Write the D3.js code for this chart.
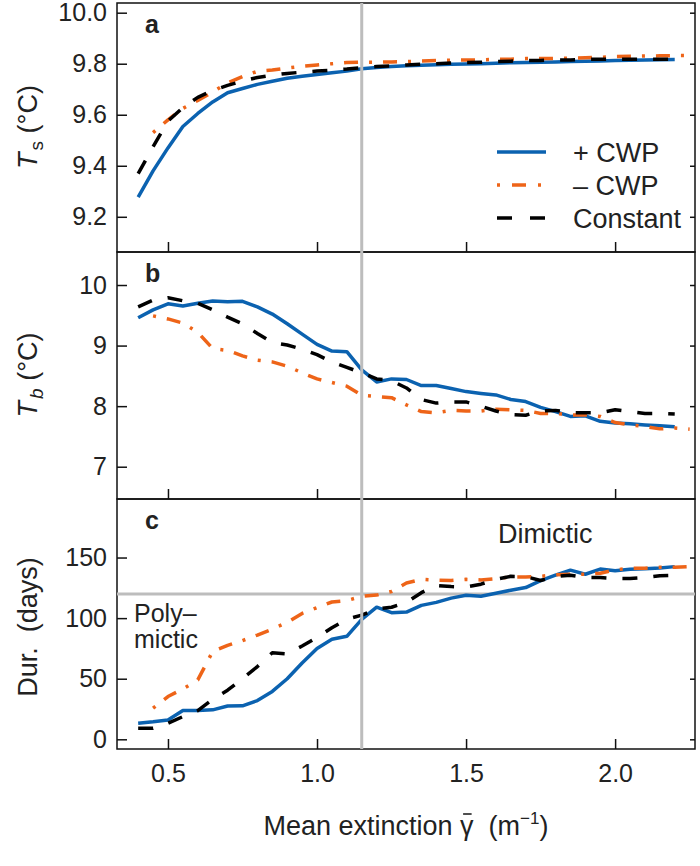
<!DOCTYPE html>
<html>
<head>
<meta charset="utf-8">
<script src="https://cdn.jsdelivr.net/npm/d3@7"></script>
<style>
  body { margin: 0; background: #fff; }
  svg text { font-family: 'Liberation Sans', Arial, Helvetica, sans-serif; fill: #222; }
</style>
</head>
<body>
<div id="chart"></div>
<script>
// x grids (mean extinction, 1/m)
const xPlus = [0.40, 0.45, 0.50, 0.55, 0.60, 0.65, 0.70, 0.75, 0.80, 0.85, 0.90, 0.95, 1.00, 1.05, 1.10, 1.15, 1.20, 1.25, 1.30,
  1.35, 1.40, 1.45, 1.50, 1.55, 1.60, 1.65, 1.70, 1.75, 1.80, 1.85, 1.90, 1.95, 2.00, 2.05, 2.10, 2.15, 2.20]
const xMinus = [0.45, 0.50, 0.55, 0.60, 0.65, 0.70, 0.75, 0.80, 0.85, 0.90, 0.95, 1.00, 1.05, 1.10, 1.15, 1.20, 1.25, 1.30,
  1.35, 1.40, 1.45, 1.50, 1.55, 1.60, 1.65, 1.70, 1.75, 1.80, 1.85, 1.90, 1.95, 2.00, 2.05, 2.10, 2.15, 2.20, 2.25]
const xConst = xPlus

// a: surface temperature Ts
const tsPlus = [9.277, 9.38, 9.47, 9.554, 9.605, 9.65, 9.686, 9.703, 9.719, 9.731, 9.743, 9.751, 9.758, 9.765, 9.771, 9.78,
  9.785, 9.789, 9.792, 9.794, 9.796, 9.798, 9.799, 9.80, 9.802, 9.804, 9.805, 9.806, 9.807, 9.809, 9.81, 9.811, 9.813,
  9.814, 9.815, 9.816, 9.817]
const tsMinus = [9.53, 9.58, 9.625, 9.656, 9.689, 9.725, 9.75, 9.77, 9.775, 9.783, 9.79, 9.795, 9.80, 9.805, 9.806, 9.806,
  9.807, 9.808, 9.811, 9.813, 9.814, 9.815, 9.815, 9.817, 9.818, 9.82, 9.82, 9.821, 9.822, 9.823, 9.825, 9.828, 9.829,
  9.83, 9.831, 9.832, 9.832]
const tsConst = [9.369, 9.475, 9.575, 9.628, 9.668, 9.695, 9.715, 9.732, 9.746, 9.755, 9.762, 9.767, 9.771, 9.775, 9.779,
  9.785, 9.789, 9.792, 9.795, 9.798, 9.80, 9.803, 9.805, 9.806, 9.808, 9.81, 9.812, 9.813, 9.815, 9.815, 9.817, 9.818,
  9.818, 9.818, 9.818, 9.818, 9.818]

// b: bottom temperature Tb
const tbPlus = [9.46, 9.59, 9.69, 9.655, 9.70, 9.735, 9.725, 9.73, 9.64, 9.52, 9.36, 9.19, 9.02, 8.91, 8.90, 8.60, 8.40,
  8.45, 8.44, 8.34, 8.34, 8.29, 8.24, 8.21, 8.185, 8.11, 8.075, 7.98, 7.91, 7.83, 7.84, 7.75, 7.72, 7.71, 7.69, 7.675, 7.66]
const tbMinus = [9.49, 9.44, 9.37, 9.22, 8.95, 8.92, 8.83, 8.76, 8.73, 8.66, 8.55, 8.45, 8.39, 8.33, 8.18, 8.16, 8.14,
  8.02, 7.91, 7.89, 7.93, 7.92, 7.92, 7.95, 7.94, 7.93, 7.88, 7.88, 7.855, 7.855, 7.83, 7.73, 7.69, 7.665, 7.625, 7.64, 7.62]
const tbConst = [9.64, 9.75, 9.79, 9.74, 9.70, 9.59, 9.47, 9.36, 9.20, 9.05, 9.01, 8.94, 8.85, 8.73, 8.64, 8.55, 8.45,
  8.42, 8.30, 8.11, 8.05, 8.07, 8.07, 8.00, 7.92, 7.86, 7.85, 7.92, 7.93, 7.89, 7.89, 7.89, 7.94, 7.91, 7.88, 7.88, 7.87]

// c: duration of stratification (days)
const durPlus = [13.3, 14.5, 16, 23.7, 23.7, 24.3, 27.5, 27.6, 32, 39.5, 50, 63, 75, 82.5, 85, 99, 109, 104.5, 105,
  110.5, 113, 116.5, 118.8, 118, 120.5, 123, 125.2, 131, 135.5, 139.6, 136.2, 140.5, 139, 140.3, 140.8, 141.3, 142.5]
const durMinus = [25.7, 35.3, 41.5, 49, 72.5, 77.5, 81.5, 86, 91, 96.5, 103.9, 108.6, 113.3, 114.5, 118, 119, 122, 129,
  132, 131.3, 131, 132, 131.5, 132.5, 134, 134, 134.5, 135.8, 136.2, 136.2, 137, 139.8, 141.2, 141.2, 141.9, 141.9, 142.6]
const durConst = [9.1, 9.1, 13.3, 18.7, 23.7, 33, 40.5, 50, 60, 71.5, 70.5, 77, 84, 92, 99, 102.5, 107.5, 109, 113, 121,
  127, 126, 125.7, 128, 132, 134.5, 134.3, 131, 134.3, 135.4, 133.5, 133.5, 132.8, 132.7, 133.5, 135, 135.4]

const xTicks = [0.5, 1.0, 1.5, 2.0]
const tsTicks = [9.2, 9.4, 9.6, 9.8, 10.0]
const tbTicks = [7, 8, 9, 10]
const durTicks = [0, 50, 100, 150]
const legendLabels = ['+ CWP', '\u2013 CWP', 'Constant']
const criticalGamma = 1.15
const dimicticDays = 120

const width = 700
const height = 866
const left = 117
const right = 695

const styles = {
  plus: { color: '#0b62b0', dash: null, offset: 0 },
  minus: { color: '#ee6418', dash: '14,11,3,11', offset: 25 },
  constant: { color: '#000', dash: '15,16', offset: 0 }
}

const panels = [
  { letter: 'a', top: 3, bottom: 252, domain: [9.062, 10.038], ticks: tsTicks, fmt: d3.format('.1f'),
    sym: 'T', sub: 's', subItalic: false, unit: '\u00a0(\u00b0C)', labelY: 127,
    series: [['plus', xPlus, tsPlus], ['minus', xMinus, tsMinus], ['constant', xConst, tsConst]] },
  { letter: 'b', top: 252, bottom: 499, domain: [6.467, 10.545], ticks: tbTicks, fmt: d3.format('d'),
    sym: 'T', sub: 'b', subItalic: true, unit: '\u00a0(\u00b0C)', labelY: 375,
    series: [['plus', xPlus, tbPlus], ['minus', xMinus, tbMinus], ['constant', xConst, tbConst]] },
  { letter: 'c', top: 499, bottom: 749, domain: [-8, 198.3], ticks: durTicks, fmt: d3.format('d'),
    labelY: 627,
    series: [['plus', xPlus, durPlus], ['minus', xMinus, durMinus], ['constant', xConst, durConst]] }
]

const svg = d3.select('#chart').append('svg')
  .attr('width', width)
  .attr('height', height)

const x = d3.scaleLinear().domain([0.329, 2.268]).range([left, right])

panels.forEach((p, pi) => {
  const y = d3.scaleLinear().domain(p.domain).range([p.bottom, p.top])
  const g = svg.append('g')

  // frame
  g.append('rect')
    .attr('x', left).attr('y', p.top)
    .attr('width', right - left).attr('height', p.bottom - p.top)
    .attr('fill', 'none').attr('stroke', '#111').attr('stroke-width', 1.5)

  // axes, ticks pointing inward
  const yl = g.append('g').attr('transform', `translate(${left},0)`)
    .call(d3.axisLeft(y).tickValues(p.ticks).tickFormat(p.fmt).tickSize(-10).tickPadding(10))
  const yr = g.append('g').attr('transform', `translate(${right},0)`)
    .call(d3.axisRight(y).tickValues(p.ticks).tickFormat('').tickSize(-5))
  const xb = g.append('g').attr('transform', `translate(0,${p.bottom})`)
    .call(d3.axisBottom(x).tickValues(xTicks).tickFormat(pi === 2 ? d3.format('.1f') : '').tickSize(-10).tickPadding(15))
  ;[yl, yr, xb].forEach(a => {
    a.select('.domain').remove()
    a.selectAll('line').attr('stroke', '#111').attr('stroke-width', 1.5)
    a.selectAll('text').attr('font-size', 25).attr('fill', '#222')
      .style('font-family', "'Liberation Sans', Arial, sans-serif")
  })
  xb.selectAll('text').attr('dy', '0.71em')

  // y label
  const lab = g.append('text')
    .attr('transform', `translate(37,${p.labelY}) rotate(-90)`)
    .attr('text-anchor', 'middle')
    .attr('font-size', 27)
  if (p.sym) {
    lab.append('tspan').attr('font-style', 'italic').text(p.sym)
    lab.append('tspan').attr('font-size', 19).attr('dy', 6).attr('dx', 2)
      .attr('font-style', p.subItalic ? 'italic' : 'normal').text(p.sub)
    lab.append('tspan').attr('dy', -6).text(p.unit)
  } else {
    lab.text('Dur.\u00a0\u00a0(days)')
  }

  // panel letter
  g.append('text')
    .attr('x', 145).attr('y', [33, 282, 529][pi])
    .attr('font-size', 25).attr('font-weight', 'bold')
    .text(p.letter)

  const clipId = 'clip-' + p.letter
  svg.append('clipPath').attr('id', clipId).append('rect')
    .attr('x', left).attr('y', p.top).attr('width', right - left).attr('height', p.bottom - p.top)

  if (pi === 2) {
    g.append('line')
      .attr('x1', left).attr('x2', right)
      .attr('y1', y(dimicticDays)).attr('y2', y(dimicticDays))
      .attr('stroke', '#bdbdbd').attr('stroke-width', 3)
    g.append('text').attr('x', 498).attr('y', 543).attr('font-size', 27).text('Dimictic')
    g.append('text').attr('x', 134).attr('y', 622).attr('font-size', 25).text('Poly\u2013')
    g.append('text').attr('x', 134).attr('y', 648).attr('font-size', 25).text('mictic')
  }
  p.y = y
  p.g = g
  p.clipId = clipId
})

// critical extinction line spanning all panels
svg.append('line')
  .attr('x1', x(criticalGamma)).attr('x2', x(criticalGamma))
  .attr('y1', panels[0].top).attr('y2', panels[2].bottom)
  .attr('stroke', '#bdbdbd').attr('stroke-width', 3)

// data lines
panels.forEach(p => {
  const lines = p.g.append('g').attr('clip-path', `url(#${p.clipId})`)
  p.series.forEach(([key, xs, ys]) => {
    const pts = xs.map((d, i) => [d, ys[i]])
    lines.append('path')
      .datum(pts)
      .attr('fill', 'none')
      .attr('stroke', styles[key].color)
      .attr('stroke-width', 3.5)
      .attr('stroke-dasharray', styles[key].dash)
      .attr('stroke-dashoffset', styles[key].offset)
      .attr('stroke-linejoin', 'round')
      .attr('d', d3.line().x(d => x(d[0])).y(d => p.y(d[1])))
  })
})

// legend
const legend = svg.append('g')
const legKeys = ['plus', 'minus', 'constant']
const legY = [152, 185, 218]
legKeys.forEach((k, i) => {
  legend.append('line')
    .attr('x1', 497).attr('x2', 546)
    .attr('y1', legY[i]).attr('y2', legY[i])
    .attr('stroke', styles[k].color).attr('stroke-width', 3.5)
    .attr('stroke-dasharray', k === 'minus' ? '3,12,14,12' : (k === 'constant' ? '15,18' : null))
  legend.append('text')
    .attr('x', 573).attr('y', legY[i] + 10)
    .attr('font-size', 27)
    .text(legendLabels[i])
})

// x label
const xl = svg.append('text')
  .attr('x', 406).attr('y', 835)
  .attr('text-anchor', 'middle')
  .attr('font-size', 27)
const lead = 'Mean extinction '
xl.append('tspan').text(lead + '\u03b3\u00a0\u00a0(m')
xl.append('tspan').attr('font-size', 17).attr('dy', -11).text('\u22121')
xl.append('tspan').attr('dy', 11).text(')')
// bar over gamma
const gBox = xl.node().getExtentOfChar(lead.length)
svg.append('line')
  .attr('x1', gBox.x + 3).attr('x2', gBox.x + gBox.width - 2)
  .attr('y1', 835 - 21).attr('y2', 835 - 21)
  .attr('stroke', '#222').attr('stroke-width', 1.6)
</script>
</body>
</html>
